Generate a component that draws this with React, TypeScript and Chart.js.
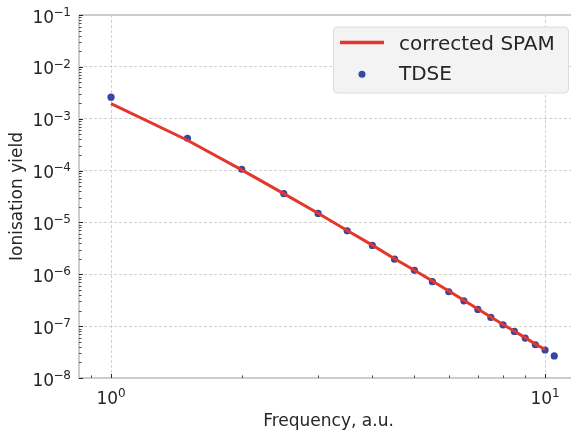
import { useEffect, useRef } from 'react';
import { Chart, registerables } from 'chart.js';

Chart.register(...registerables);

// ---- data ----
const tdseFrequency = [1, 1.5, 2, 2.5, 3, 3.5, 4, 4.5, 5, 5.5, 6, 6.5, 7, 7.5, 8, 8.5, 9, 9.5, 10, 10.5];
const tdseYield = [
  2.6e-3, 4.2e-4, 1.06e-4, 3.6e-5, 1.49e-5, 6.9e-6, 3.6e-6, 1.96e-6, 1.19e-6, 7.2e-7,
  4.6e-7, 3.08e-7, 2.1e-7, 1.47e-7, 1.06e-7, 7.9e-8, 5.9e-8, 4.38e-8, 3.47e-8, 2.66e-8,
];
const spamFrequency = [1, 1.5, 2, 2.5, 3, 3.5, 4, 4.5, 5, 5.5, 6, 6.5, 7, 7.5, 8, 8.5, 9, 9.5, 10];
const spamYield = [
  1.95e-3, 3.85e-4, 1.03e-4, 3.6e-5, 1.5e-5, 7.0e-6, 3.65e-6, 2.0e-6, 1.2e-6, 7.4e-7,
  4.75e-7, 3.15e-7, 2.15e-7, 1.5e-7, 1.08e-7, 8.0e-8, 6.0e-8, 4.5e-8, 3.55e-8,
];
const seriesLabels = ['corrected SPAM', 'TDSE'];
const xMajorExponents = [0, 1];
const yMajorExponents = [-8, -7, -6, -5, -4, -3, -2, -1];
const xMinorTicks = [0.9, 2, 3, 4, 5, 6, 7, 8, 9];
const minorMantissas = [2, 3, 4, 5, 6, 7, 8, 9];
const xAxisTitle = 'Frequency, a.u.';
const yAxisTitle = 'Ionisation yield';

const X_MIN = 0.8437;
const X_MAX = 11.91;
const Y_MIN = 1e-8;
const Y_MAX = 1e-1;

const LINE_COLOR = '#e2372a';
const DOT_COLOR = '#3547a5';
const TEXT_COLOR = '#262626';
const SPINE_COLOR = '#cccccc';
const GRID_COLOR = '#d2d2d2';
const FONT = '"DejaVu Sans"';

const isMajor = (v: number) => {
  const l = Math.log10(v);
  return Math.abs(l - Math.round(l)) < 1e-6;
};

const gridColor = (c: any) => {
  const v = c.tick && c.tick.value;
  if (!v) return 'rgba(0,0,0,0)';
  return isMajor(v) ? GRID_COLOR : 'rgba(0,0,0,0)';
};

function drawPower(ctx: CanvasRenderingContext2D, exp: number, x: number, baseline: number, align: 'right' | 'center') {
  const baseFont = `17px ${FONT}`;
  const supFont = `12px ${FONT}`;
  const expText = exp < 0 ? '\u2212' + String(-exp) : String(exp);
  ctx.font = baseFont;
  const wBase = ctx.measureText('10').width;
  ctx.font = supFont;
  const chars = expText.split('');
  const advances = chars.map((ch) => {
    const m = ctx.measureText(ch);
    if (ch === '\u2212') return m.actualBoundingBoxRight + m.actualBoundingBoxLeft + 1.2;
    return m.width;
  });
  const wSup = advances.reduce((a, b) => a + b, 0);
  const total = wBase + wSup;
  const start = align === 'right' ? x - total : x - total / 2;
  ctx.textAlign = 'left';
  ctx.textBaseline = 'alphabetic';
  ctx.fillStyle = TEXT_COLOR;
  ctx.font = baseFont;
  ctx.fillText('10', start, baseline);
  let cx = start + wBase;
  ctx.font = supFont;
  chars.forEach((ch, i) => {
    if (ch === '\u2212') {
      const m = ctx.measureText(ch);
      ctx.fillText(ch, cx + m.actualBoundingBoxLeft + 0.3, baseline - 6.6);
    } else {
      ctx.fillText(ch, cx, baseline - 6.6);
    }
    cx += advances[i];
  });
}

const decorPlugin = {
  id: 'decor',
  afterDraw(chart: any) {
    const { ctx, chartArea: a, scales } = chart;
    const xs = scales.x;
    const ys = scales.y;
    ctx.save();

    // spines
    ctx.strokeStyle = SPINE_COLOR;
    ctx.lineWidth = 2;
    ctx.setLineDash([]);
    ctx.beginPath();
    ctx.moveTo(a.left, a.top);
    ctx.lineTo(a.left, a.bottom);
    ctx.lineTo(a.right, a.bottom);
    ctx.moveTo(a.left, a.top);
    ctx.lineTo(a.right, a.top);
    ctx.stroke();

    // ticks (inward)
    ctx.strokeStyle = TEXT_COLOR;
    ctx.lineWidth = 1;
    ctx.beginPath();
    yMajorExponents.forEach((e) => {
      const py = Math.round(ys.getPixelForValue(Math.pow(10, e))) + 0.5;
      ctx.moveTo(a.left, py);
      ctx.lineTo(a.left + 4, py);
    });
    xMajorExponents.forEach((e) => {
      const px = Math.round(xs.getPixelForValue(Math.pow(10, e))) + 0.5;
      ctx.moveTo(px, a.bottom);
      ctx.lineTo(px, a.bottom - 4);
    });
    ctx.stroke();
    ctx.lineWidth = 0.8;
    ctx.beginPath();
    yMajorExponents.slice(0, -1).forEach((e) => {
      minorMantissas.forEach((m) => {
        const py = Math.round(ys.getPixelForValue(m * Math.pow(10, e))) + 0.5;
        ctx.moveTo(a.left, py);
        ctx.lineTo(a.left + 2.6, py);
      });
    });
    xMinorTicks.forEach((v) => {
      const px = Math.round(xs.getPixelForValue(v)) + 0.5;
      ctx.moveTo(px, a.bottom);
      ctx.lineTo(px, a.bottom - 2.6);
    });
    ctx.stroke();

    // tick labels
    yMajorExponents.forEach((e) => {
      const py = ys.getPixelForValue(Math.pow(10, e));
      drawPower(ctx, e, a.left - 8, py + 7.5, 'right');
    });
    xMajorExponents.forEach((e) => {
      const px = xs.getPixelForValue(Math.pow(10, e));
      drawPower(ctx, e, px, a.bottom + 26, 'center');
    });

    // legend
    const lw = 235;
    const lh = 66;
    const lx = a.right - 10 - lw;
    const ly = a.top + 11.5;
    ctx.beginPath();
    ctx.roundRect(lx + 0.5, ly + 0.5, lw, lh, 4);
    ctx.fillStyle = '#f3f3f3';
    ctx.fill();
    ctx.strokeStyle = '#dcdcdc';
    ctx.lineWidth = 1;
    ctx.stroke();

    const ds = chart.data.datasets;
    ctx.strokeStyle = ds[0].borderColor;
    ctx.lineWidth = 3.5;
    ctx.beginPath();
    ctx.moveTo(lx + 7, ly + 16);
    ctx.lineTo(lx + 51, ly + 16);
    ctx.stroke();
    ctx.fillStyle = ds[1].backgroundColor;
    ctx.beginPath();
    ctx.arc(lx + 29, ly + 47.8, 3.5, 0, Math.PI * 2);
    ctx.fill();

    ctx.fillStyle = TEXT_COLOR;
    ctx.font = `20px ${FONT}`;
    ctx.textAlign = 'left';
    ctx.textBaseline = 'alphabetic';
    ctx.fillText(ds[0].label, lx + 66, ly + 23.5);
    ctx.fillText(ds[1].label, lx + 66, ly + 53.5);

    ctx.restore();
  },
};

export default function App() {
  const ref = useRef<HTMLCanvasElement>(null);

  useEffect(() => {
    if (!ref.current) return;
    const chart = new Chart(ref.current, {
      type: 'scatter',
      data: {
        datasets: [
          {
            label: seriesLabels[0],
            data: spamFrequency.map((x, i) => ({ x, y: spamYield[i] })),
            showLine: true,
            borderColor: LINE_COLOR,
            backgroundColor: LINE_COLOR,
            borderWidth: 3,
            pointRadius: 0,
            tension: 0,
          } as any,
          {
            label: seriesLabels[1],
            data: tdseFrequency.map((x, i) => ({ x, y: tdseYield[i] })),
            showLine: false,
            borderColor: DOT_COLOR,
            backgroundColor: DOT_COLOR,
            borderWidth: 0,
            pointRadius: 3.6,
          },
        ],
      },
      options: {
        animation: false,
        responsive: false,
        devicePixelRatio: 1,
        events: [],
        layout: { padding: { top: 15, left: 0, right: 0, bottom: 0 } },
        plugins: {
          legend: { display: false },
          tooltip: { enabled: false },
        },
        scales: {
          x: {
            type: 'logarithmic',
            min: X_MIN,
            max: X_MAX,
            ticks: { display: false, autoSkip: false },
            grid: { color: gridColor, lineWidth: 1, drawTicks: false },
            border: { display: false, dash: [3, 2] },
            title: {
              display: true,
              text: xAxisTitle,
              color: TEXT_COLOR,
              font: { family: 'DejaVu Sans', size: 17 },
              padding: { top: 0, bottom: 3 },
            },
            afterFit: (s: any) => {
              s.height = 57;
            },
          },
          y: {
            type: 'logarithmic',
            min: Y_MIN,
            max: Y_MAX,
            ticks: { display: false, autoSkip: false },
            grid: { color: gridColor, lineWidth: 1, drawTicks: false },
            border: { display: false, dash: [3, 2] },
            title: {
              display: true,
              text: yAxisTitle,
              color: TEXT_COLOR,
              font: { family: 'DejaVu Sans', size: 17 },
              padding: { top: 7, bottom: 0 },
            },
            afterFit: (s: any) => {
              s.width = 79;
            },
          },
        },
      },
      plugins: [decorPlugin],
    });
    return () => chart.destroy();
  }, []);

  return (
    <div
      style={{
        position: 'fixed',
        left: 0,
        top: 0,
        width: 571,
        height: 435,
        overflow: 'hidden',
        background: '#ffffff',
      }}
    >
      <canvas ref={ref} width={582} height={435} style={{ width: 582, height: 435, display: 'block' }} />
    </div>
  );
}
